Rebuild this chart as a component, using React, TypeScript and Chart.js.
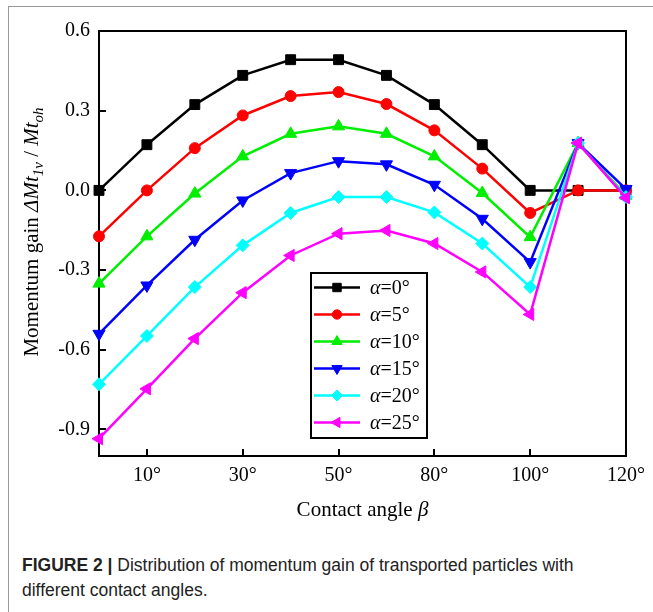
import React, { useEffect, useRef } from 'react';
import { Chart, registerables } from 'chart.js';
import { drawPoint } from 'chart.js/helpers';

Chart.register(...registerables);

// Category positions along the x axis (only some are labelled in the figure)
const betaLabels = ['', '10°', '', '30°', '', '50°', '', '80°', '', '100°', '', '120°'];
const yTickValues = [-0.9, -0.6, -0.3, 0, 0.3, 0.6];

const alphaNames = ['0°', '5°', '10°', '15°', '20°', '25°'];
const alpha0 = [0, 0.172, 0.323, 0.433, 0.492, 0.492, 0.433, 0.323, 0.172, 0, 0, 0];
const alpha5 = [-0.173, 0, 0.159, 0.282, 0.355, 0.37, 0.325, 0.226, 0.082, -0.085, 0, 0];
const alpha10 = [-0.351, -0.173, -0.012, 0.128, 0.213, 0.241, 0.213, 0.128, -0.01, -0.176, 0.178, -0.02];
const alpha15 = [-0.54, -0.358, -0.186, -0.038, 0.065, 0.11, 0.098, 0.021, -0.107, -0.27, 0.178, 0.005];
const alpha20 = [-0.73, -0.548, -0.364, -0.207, -0.085, -0.025, -0.025, -0.083, -0.2, -0.364, 0.178, -0.025];
const alpha25 = [-0.935, -0.747, -0.558, -0.385, -0.245, -0.163, -0.151, -0.2, -0.307, -0.467, 0.178, -0.028];

const seriesValues = [alpha0, alpha5, alpha10, alpha15, alpha20, alpha25];
const seriesColors = ['#000000', '#ff0000', '#00ee00', '#0000ff', '#00ffff', '#ff00ff'];
const seriesPointStyles = ['rect', 'circle', 'triangle', 'triangle', 'rectRot', 'triangle'];
const seriesRotations = [0, 0, 0, 180, 0, -90];
const seriesRadii = [7, 5.5, 7, 7, 6.5, 7];

const SERIF = '"Liberation Serif", "Times New Roman", serif';

function drawRuns(ctx: CanvasRenderingContext2D, runs: { t: string; font: string; dy: number }[], startX: number) {
  let x = startX;
  for (const r of runs) {
    ctx.font = r.font;
    ctx.fillText(r.t, x, r.dy);
    x += ctx.measureText(r.t).width;
  }
}
function runsWidth(ctx: CanvasRenderingContext2D, runs: { t: string; font: string; dy: number }[]) {
  let w = 0;
  for (const r of runs) {
    ctx.font = r.font;
    w += ctx.measureText(r.t).width;
  }
  return w;
}

const framePlugin = {
  id: 'frame',
  beforeDatasetsDraw(chart: any) {
    const { ctx, chartArea: a, scales } = chart;
    ctx.save();
    ctx.strokeStyle = '#000';
    ctx.lineWidth = 2;
    ctx.strokeRect(a.left, a.top, a.right - a.left, a.bottom - a.top);
    ctx.beginPath();
    yTickValues.forEach((v) => {
      const py = Math.round(scales.y.getPixelForValue(v));
      ctx.moveTo(a.left, py);
      ctx.lineTo(a.left + 7, py);
    });
    betaLabels.forEach((l, i) => {
      if (!l) return;
      const px = Math.round(scales.x.getPixelForValue(i));
      ctx.moveTo(px, a.bottom);
      ctx.lineTo(px, a.bottom - 7);
    });
    ctx.stroke();

    // Axis titles
    ctx.fillStyle = '#000';
    ctx.textBaseline = 'alphabetic';
    const xRuns = [
      { t: 'Contact angle ', font: `21px ${SERIF}`, dy: 0 },
      { t: 'β', font: `italic 21px ${SERIF}`, dy: 0 },
    ];
    const xw = runsWidth(ctx, xRuns);
    ctx.save();
    ctx.translate((a.left + a.right) / 2, 516);
    drawRuns(ctx, xRuns, -xw / 2);
    ctx.restore();

    const yRuns = [
      { t: 'Momentum gain ', font: `21px ${SERIF}`, dy: 0 },
      { t: 'ΔMt', font: `italic 21px ${SERIF}`, dy: 0 },
      { t: '1v', font: `italic 15px ${SERIF}`, dy: 5 },
      { t: ' / ', font: `21px ${SERIF}`, dy: 0 },
      { t: 'Mt', font: `italic 21px ${SERIF}`, dy: 0 },
      { t: 'oh', font: `italic 15px ${SERIF}`, dy: 5 },
    ];
    const yw = runsWidth(ctx, yRuns);
    ctx.save();
    ctx.translate(38, 232);
    ctx.rotate(-Math.PI / 2);
    drawRuns(ctx, yRuns, -yw / 2);
    ctx.restore();
    ctx.restore();
  },
  afterDraw(chart: any) {
    const { ctx, chartArea: a } = chart;
    ctx.save();
    const bx = a.left + 212;
    const by = a.top + 242;
    const bw = 116;
    const bh = 165;
    ctx.fillStyle = '#fff';
    ctx.fillRect(bx, by, bw, bh);
    ctx.strokeStyle = '#000';
    ctx.lineWidth = 2;
    ctx.strokeRect(bx, by, bw, bh);
    chart.data.datasets.forEach((ds: any, i: number) => {
      const cy = by + 14.5 + i * 27;
      ctx.strokeStyle = ds.borderColor;
      ctx.lineWidth = 2.5;
      ctx.beginPath();
      ctx.moveTo(bx + 3, cy);
      ctx.lineTo(bx + 49, cy);
      ctx.stroke();
      ctx.fillStyle = ds.borderColor;
      ctx.lineWidth = 1;
      drawPoint(ctx, { pointStyle: ds.pointStyle, rotation: ds.pointRotation, radius: ds.pointRadius * 0.85, borderWidth: 1 }, bx + 26, cy);
      ctx.fillStyle = '#000';
      ctx.textBaseline = 'middle';
      const runs = [
        { t: 'α', font: `italic 20px ${SERIF}`, dy: 1 },
        { t: '=' + alphaNames[i], font: `20px ${SERIF}`, dy: 1 },
      ];
      ctx.save();
      ctx.translate(bx + 59, cy);
      drawRuns(ctx, runs, 0);
      ctx.restore();
    });
    ctx.restore();
  },
};

export default function App() {
  const ref = useRef<HTMLCanvasElement | null>(null);
  useEffect(() => {
    if (!ref.current) return;
    const chart = new Chart(ref.current, {
      type: 'line',
      data: {
        labels: betaLabels,
        datasets: seriesValues.map((vals, i) => ({
          label: 'α=' + alphaNames[i],
          data: vals,
          borderColor: seriesColors[i],
          backgroundColor: seriesColors[i],
          pointBackgroundColor: seriesColors[i],
          pointBorderColor: seriesColors[i],
          pointBorderWidth: 1,
          pointStyle: seriesPointStyles[i] as any,
          pointRotation: seriesRotations[i],
          pointRadius: seriesRadii[i],
          borderWidth: 2.5,
          tension: 0,
          clip: false as any,
          order: 6 - i,
        })),
      },
      plugins: [framePlugin],
      options: {
        responsive: false,
        animation: false,
        devicePixelRatio: 1,
        layout: { padding: { left: 0, top: 31, right: 25, bottom: 0 } },
        plugins: { legend: { display: false }, tooltip: { enabled: false } },
        scales: {
          x: {
            type: 'category',
            offset: false,
            grid: { display: false, drawTicks: false },
            border: { display: false },
            ticks: {
              autoSkip: false,
              maxRotation: 0,
              padding: 8,
              color: '#000',
              font: { family: SERIF, size: 20 },
            },
            afterFit: (s: any) => {
              s.height = 74;
            },
          },
          y: {
            type: 'linear',
            min: -1.0,
            max: 0.6,
            grid: { display: false, drawTicks: false },
            border: { display: false },
            afterBuildTicks: (s: any) => {
              s.ticks = yTickValues.map((v) => ({ value: v }));
            },
            ticks: {
              padding: 9,
              color: '#000',
              font: { family: SERIF, size: 20 },
              callback: (v: any) => Number(v).toFixed(1),
            },
            afterFit: (s: any) => {
              s.width = 99;
            },
          },
        },
      },
    });
    return () => chart.destroy();
  }, []);

  return (
    <div style={{ position: 'absolute', left: 0, top: 0, width: 653, height: 612, background: '#fff', overflow: 'hidden' }}>
      <div
        style={{
          position: 'absolute',
          left: 8,
          top: 6,
          width: 660,
          height: 620,
          borderTop: '1.5px solid #999',
          borderLeft: '1.5px solid #999',
        }}
      />
      <canvas ref={ref} width={653} height={530} style={{ position: 'absolute', left: 0, top: 0, width: 653, height: 530 }} />
      <div
        style={{
          position: 'absolute',
          left: 22,
          top: 553,
          width: 630,
          fontFamily: '"Liberation Sans", Arial, sans-serif',
          fontSize: 17.5,
          lineHeight: '25px',
          color: '#222',
          whiteSpace: 'nowrap',
        }}
      >
        <b>FIGURE 2 |</b> Distribution of momentum gain of transported particles with
        <br />
        different contact angles.
      </div>
    </div>
  );
}
